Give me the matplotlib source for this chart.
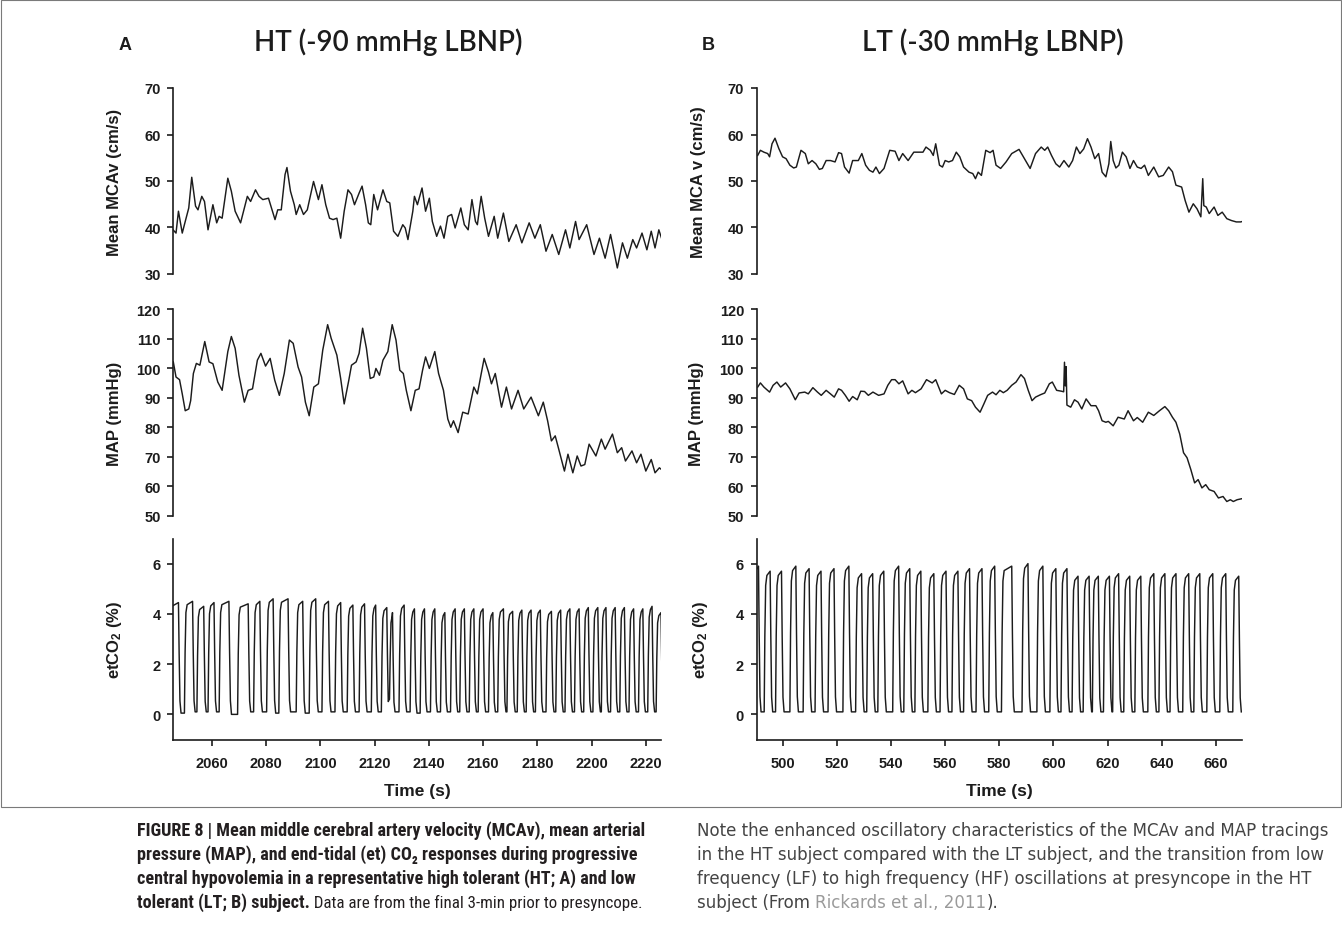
import matplotlib
matplotlib.use("Agg")
import matplotlib.pyplot as plt
from matplotlib.patches import Rectangle

# ---------------------------------------------------------------- data
# HT subject (-90 mmHg LBNP)
ht_mcav_t = [2045.7, 2046.8, 2047.7, 2049.1, 2050.2, 2051.5, 2052.6, 2054.0, 2054.9, 2056.3,
             2057.3, 2058.6, 2060.4, 2061.8, 2062.7, 2063.8, 2065.9, 2067.2, 2068.6, 2070.6,
             2073.1, 2074.3, 2076.1, 2077.4, 2078.8, 2080.9, 2082.2, 2083.3, 2084.3, 2085.6,
             2087.0, 2087.7, 2089.0, 2090.4, 2091.1, 2092.4, 2093.8, 2095.2, 2097.5, 2099.3,
             2100.6, 2102.0, 2103.4, 2104.7, 2106.1, 2107.5, 2108.8, 2110.2, 2111.5, 2112.6,
             2114.3, 2115.4, 2116.7, 2117.7, 2118.6, 2119.7, 2121.1, 2123.1, 2124.5, 2125.6,
             2127.0, 2128.6, 2130.4, 2131.3, 2132.3, 2134.1, 2134.7, 2135.8, 2137.5, 2138.8,
             2140.2, 2141.3, 2142.9, 2144.3, 2145.6, 2147.0, 2148.4, 2149.7, 2151.8, 2153.1,
             2154.5, 2155.9, 2157.2, 2157.9, 2159.3, 2160.6, 2162.0, 2164.1, 2165.4, 2167.5,
             2169.5, 2172.2, 2174.3, 2177.0, 2179.1, 2181.1, 2183.2, 2185.5, 2187.9, 2190.4,
             2192.0, 2194.1, 2195.4, 2198.2, 2200.9, 2202.9, 2205.0, 2207.0, 2209.5, 2211.4,
             2213.2, 2215.2, 2216.6, 2218.6, 2220.4, 2222.0, 2223.4, 2224.8, 2225.8]
ht_mcav_v = [39.5, 38.8, 43.5, 38.8, 41.3, 44.2, 50.8, 44.6, 43.8, 46.7,
             45.6, 39.5, 44.9, 41.0, 42.4, 42.0, 50.6, 47.8, 43.5, 41.0,
             46.7, 45.6, 48.1, 46.7, 46.0, 46.3, 43.8, 41.7, 43.8, 43.8,
             51.4, 52.9, 47.8, 44.9, 42.8, 44.9, 42.8, 43.8, 49.9, 46.0,
             49.2, 44.9, 42.0, 41.7, 42.0, 37.7, 43.5, 48.1, 47.1, 44.9,
             47.4, 48.9, 44.9, 41.0, 40.6, 47.1, 43.8, 48.1, 45.6, 45.3,
             39.2, 38.1, 40.6, 39.9, 37.4, 43.5, 46.7, 44.9, 48.5, 43.5,
             46.3, 41.3, 38.1, 40.3, 37.7, 42.4, 42.8, 39.9, 44.2, 40.6,
             39.5, 46.0, 41.3, 40.6, 46.7, 42.0, 38.1, 42.4, 37.7, 43.1,
             37.0, 40.6, 36.7, 41.0, 37.7, 40.6, 34.9, 38.5, 34.2, 39.5,
             35.6, 41.3, 37.4, 40.6, 34.2, 37.7, 33.4, 38.5, 31.3, 36.7,
             33.4, 37.4, 35.6, 38.8, 35.2, 39.2, 35.6, 39.5, 37.7]

ht_map_t = [2045.8, 2046.8, 2048.1, 2049.1, 2050.2, 2051.5, 2052.2, 2053.2, 2054.3, 2055.6,
            2057.4, 2059.0, 2060.4, 2062.2, 2063.8, 2065.9, 2067.2, 2068.6, 2070.0, 2072.0,
            2073.4, 2075.0, 2076.8, 2078.1, 2079.8, 2081.5, 2083.2, 2084.9, 2086.7, 2088.6,
            2090.0, 2091.8, 2093.1, 2094.5, 2095.9, 2097.6, 2099.3, 2100.9, 2102.7, 2104.0,
            2106.1, 2107.5, 2108.8, 2110.5, 2111.5, 2113.2, 2114.3, 2115.6, 2117.0, 2118.4,
            2119.7, 2120.5, 2121.8, 2123.1, 2124.9, 2126.5, 2127.9, 2129.3, 2130.6, 2131.7,
            2133.4, 2135.0, 2136.4, 2137.7, 2138.8, 2140.2, 2142.2, 2143.6, 2145.4, 2147.0,
            2148.1, 2149.1, 2150.8, 2152.5, 2154.5, 2156.6, 2157.9, 2160.4, 2162.0, 2163.1,
            2164.5, 2166.8, 2168.6, 2170.5, 2172.9, 2175.0, 2177.7, 2180.4, 2182.2, 2183.8,
            2185.2, 2186.6, 2187.9, 2190.0, 2191.3, 2193.1, 2194.7, 2196.1, 2197.5, 2199.1,
            2201.6, 2203.6, 2205.0, 2207.7, 2209.5, 2211.1, 2212.5, 2214.9, 2216.6, 2218.2,
            2220.0, 2222.0, 2223.4, 2225.0, 2225.8]
ht_map_v = [102.1, 97.0, 96.1, 91.3, 85.6, 86.2, 89.0, 98.2, 101.6, 101.0,
            109.0, 102.1, 101.5, 95.3, 92.5, 105.6, 110.7, 106.7, 97.6, 88.5,
            92.5, 93.0, 102.7, 105.0, 100.7, 103.3, 95.9, 90.8, 98.2, 109.5,
            108.4, 100.4, 97.0, 88.5, 83.9, 93.6, 94.7, 106.1, 114.7, 110.1,
            104.4, 96.5, 87.9, 95.9, 101.0, 102.1, 105.0, 113.5, 106.7, 96.5,
            97.0, 99.9, 97.6, 102.7, 105.6, 114.7, 109.5, 99.3, 98.2, 92.5,
            85.6, 92.5, 93.0, 99.3, 103.8, 99.9, 105.6, 98.2, 92.5, 82.8,
            80.0, 82.2, 78.2, 85.1, 84.5, 93.6, 91.3, 103.3, 98.7, 94.7,
            98.2, 86.8, 93.6, 86.2, 92.5, 86.2, 90.2, 83.9, 88.5, 82.2,
            75.4, 77.1, 72.6, 65.2, 70.9, 64.6, 70.3, 66.9, 67.4, 74.3,
            70.3, 76.0, 72.6, 77.7, 71.4, 73.1, 68.6, 72.0, 68.0, 70.9,
            65.2, 69.1, 64.6, 66.3, 65.7]

# breath-by-breath CO2: rise time, fall time, end-tidal peak, trough after fall
ht_co2_rise = [2044.5, 2049.9, 2054.5, 2058.6, 2062.7, 2069.5, 2075.4, 2080.2, 2084.7, 2091.1,
               2095.9, 2100.6, 2105.4, 2109.9, 2114.3, 2118.8, 2122.5, 2125.5, 2129.0, 2133.1,
               2136.8, 2140.6, 2144.3, 2148.0, 2151.4, 2154.9, 2158.2, 2162.0, 2165.4, 2168.8,
               2172.6, 2175.9, 2179.3, 2183.2, 2186.8, 2190.2, 2193.7, 2197.1, 2200.5, 2203.6,
               2207.0, 2210.4, 2213.8, 2217.3, 2220.7, 2223.8]
ht_co2_fall = [2047.7, 2052.9, 2057.0, 2060.8, 2066.3, 2073.4, 2077.7, 2082.6, 2088.1, 2093.5,
               2098.3, 2103.0, 2107.5, 2112.0, 2116.3, 2120.4, 2124.5, 2126.6, 2130.9, 2134.7,
               2138.4, 2142.2, 2145.9, 2149.7, 2153.1, 2156.6, 2160.0, 2163.6, 2167.5, 2170.9,
               2174.3, 2177.7, 2181.1, 2185.2, 2188.6, 2192.0, 2195.4, 2198.8, 2202.3, 2205.3,
               2208.7, 2212.1, 2215.5, 2218.9, 2222.3, 2225.6]
ht_co2_peak = [4.45, 4.5, 4.3, 4.45, 4.5, 4.4, 4.5, 4.6, 4.6, 4.5,
               4.6, 4.5, 4.45, 4.35, 4.4, 4.35, 4.25, 4.05, 4.35, 4.2,
               4.2, 4.2, 4.05, 4.2, 4.2, 4.2, 4.2, 4.05, 4.2, 4.1,
               4.15, 4.15, 4.15, 4.1, 4.15, 4.2, 4.2, 4.25, 4.25, 4.25,
               4.25, 4.25, 4.2, 4.2, 4.3, 4.05]
ht_co2_low = [0.05, 0.1, 0.1, 0.1, 0.0, 0.1, 0.1, 0.05, 0.1, 0.05,
              0.1, 0.1, 0.1, 0.1, 0.1, 0.1, 0.6, 0.1, 0.1, 0.05,
              0.1, 0.1, 0.1, 0.1, 0.1, 0.1, 0.1, 0.1, 0.1, 0.1,
              0.1, 0.1, 0.1, 0.1, 0.1, 0.1, 0.1, 0.1, 0.1, 0.1,
              0.1, 0.1, 0.1, 0.1, 0.1, 0.1]

# LT subject (-30 mmHg LBNP)
lt_mcav_t = [490.7, 491.7, 493.0, 494.4, 495.1, 496.0, 497.1, 498.5, 499.9, 501.2,
             502.6, 504.0, 505.0, 506.7, 508.3, 509.4, 510.8, 512.2, 513.5, 514.6,
             516.0, 517.6, 519.3, 520.6, 521.7, 522.8, 524.5, 525.8, 527.9, 529.2,
             530.6, 532.0, 533.3, 534.4, 535.7, 537.4, 539.5, 541.5, 542.9, 544.3,
             546.3, 548.4, 550.4, 551.8, 552.9, 554.5, 555.6, 556.5, 557.9, 559.0,
             560.0, 561.3, 562.7, 564.1, 565.4, 566.8, 568.8, 570.2, 571.2, 572.2,
             573.4, 575.0, 576.6, 577.7, 578.8, 580.5, 582.5, 584.6, 587.3, 589.3,
             591.4, 593.4, 595.5, 596.8, 597.9, 599.3, 600.9, 602.3, 603.9, 605.7,
             607.1, 608.5, 609.8, 611.2, 612.6, 613.9, 615.3, 616.7, 618.0, 619.4,
             620.5, 621.2, 622.1, 623.1, 624.2, 625.5, 626.9, 628.3, 629.6, 631.0,
             632.4, 633.7, 635.1, 637.1, 638.9, 640.6, 642.6, 644.0, 645.3, 647.4,
             648.7, 650.1, 651.7, 653.1, 654.5, 655.2, 655.6, 656.5, 657.6, 659.4,
             660.8, 662.4, 664.1, 665.8, 667.6, 669.2, 669.9]
lt_mcav_v = [55.5, 56.6, 56.2, 55.9, 55.2, 58.0, 59.2, 57.0, 55.2, 54.8,
             53.4, 52.8, 53.0, 56.6, 55.9, 53.7, 54.4, 53.7, 52.5, 52.7,
             54.4, 54.4, 54.1, 56.1, 55.9, 53.0, 51.7, 54.4, 54.4, 55.9,
             53.4, 52.3, 51.9, 53.0, 51.6, 52.7, 56.6, 56.4, 54.4, 55.9,
             54.4, 56.2, 56.2, 56.2, 57.3, 56.6, 55.5, 58.0, 53.4, 53.0,
             54.4, 54.1, 54.4, 56.2, 55.2, 53.0, 51.9, 51.6, 50.5, 51.9,
             51.2, 56.6, 56.1, 56.6, 53.4, 52.7, 54.1, 55.9, 56.8, 54.8,
             52.7, 55.9, 57.3, 56.6, 57.3, 55.5, 53.7, 53.0, 54.4, 53.0,
             54.4, 57.3, 55.9, 56.9, 59.1, 57.3, 54.8, 55.9, 51.9, 50.9,
             53.7, 58.5, 54.4, 52.8, 53.4, 56.2, 55.2, 52.7, 54.4, 53.0,
             52.7, 53.4, 51.2, 53.0, 50.9, 51.2, 53.0, 52.0, 49.1, 48.7,
             45.8, 43.3, 45.1, 44.0, 42.3, 50.5, 44.7, 44.4, 43.0, 44.4,
             42.6, 43.3, 41.9, 41.5, 41.2, 41.2, 41.3]

lt_map_t = [490.7, 491.7, 493.0, 495.1, 496.4, 497.8, 499.2, 501.0, 502.6, 504.6,
            506.0, 508.1, 509.4, 511.1, 512.8, 514.2, 516.0, 517.6, 519.0, 520.6,
            521.7, 523.1, 524.5, 525.8, 527.5, 528.8, 530.2, 531.6, 533.3, 535.4,
            537.4, 538.8, 540.2, 541.5, 542.9, 544.3, 546.3, 547.7, 549.0, 551.1,
            553.1, 555.2, 556.5, 558.6, 560.0, 561.6, 563.4, 565.2, 566.8, 568.2,
            569.8, 571.2, 572.9, 574.3, 575.7, 577.5, 578.8, 580.2, 581.5, 582.9,
            584.6, 586.2, 588.0, 589.3, 590.7, 592.1, 593.4, 595.2, 596.8, 598.5,
            599.6, 601.2, 603.0, 603.8, 604.1, 604.4, 604.7, 605.0, 606.4, 607.8,
            609.1, 610.5, 612.1, 613.9, 615.7, 616.7, 618.0, 619.4, 620.3, 622.1,
            623.9, 626.2, 627.6, 629.6, 631.0, 633.0, 635.1, 637.1, 639.2, 641.2,
            642.6, 644.0, 645.3, 646.7, 648.1, 649.4, 650.8, 652.2, 653.5, 654.9,
            656.3, 657.6, 659.4, 661.0, 662.7, 664.1, 665.4, 666.5, 667.9, 669.9]
lt_map_v = [93.6, 95.0, 93.6, 91.9, 94.2, 95.3, 93.6, 95.0, 93.0, 89.3,
            91.6, 91.9, 91.3, 93.4, 91.9, 90.8, 92.5, 91.3, 90.2, 93.0,
            92.5, 90.8, 88.8, 90.4, 89.3, 92.2, 92.1, 90.8, 91.9, 90.8,
            91.3, 94.2, 96.1, 96.1, 94.7, 95.7, 91.3, 92.5, 91.7, 93.0,
            96.1, 95.0, 96.1, 91.3, 92.5, 91.7, 91.1, 94.2, 93.0, 89.6,
            89.0, 86.8, 85.1, 87.9, 90.8, 91.9, 91.0, 92.5, 91.7, 92.5,
            94.2, 95.3, 97.8, 96.5, 92.5, 89.0, 90.2, 91.0, 91.6, 94.7,
            95.3, 92.5, 92.2, 92.0, 102.0, 94.0, 100.5, 87.5, 86.8, 89.3,
            88.5, 86.2, 89.6, 87.3, 87.3, 85.6, 82.2, 81.7, 82.0, 80.5,
            83.4, 82.8, 85.6, 82.2, 83.3, 81.7, 85.1, 84.0, 85.6, 87.0,
            85.6, 83.4, 81.7, 77.7, 71.4, 69.7, 65.7, 61.2, 62.3, 59.5,
            60.6, 58.9, 58.3, 56.1, 56.6, 54.9, 55.5, 54.9, 55.5, 55.9]

lt_co2_rise = [489.0, 493.1, 497.3, 502.6, 507.5, 511.9, 516.7, 522.2, 526.9, 531.0,
               535.1, 540.6, 544.7, 548.8, 553.6, 558.1, 562.5, 566.8, 571.4, 576.1,
               580.8, 588.4, 593.9, 598.7, 602.8, 606.9, 611.0, 614.4, 618.5, 621.9,
               626.0, 630.1, 634.9, 639.0, 643.1, 647.8, 651.9, 656.7, 661.5, 666.3]
lt_co2_fall = [491.0, 495.3, 499.5, 504.8, 509.7, 514.1, 518.9, 524.4, 529.1, 533.2,
               537.3, 542.8, 546.9, 551.0, 555.8, 560.3, 564.7, 569.0, 573.6, 578.3,
               584.6, 590.6, 596.1, 600.9, 605.0, 609.1, 613.2, 616.6, 620.7, 624.1,
               628.2, 632.3, 637.1, 641.2, 645.3, 650.0, 654.1, 658.9, 663.7, 668.5]
lt_co2_peak = [5.9, 5.7, 5.7, 5.9, 5.8, 5.7, 5.8, 5.9, 5.6, 5.6,
               5.7, 5.9, 5.8, 5.7, 5.6, 5.7, 5.7, 5.8, 5.8, 5.9,
               5.9, 6.0, 5.9, 5.8, 5.8, 5.5, 5.5, 5.5, 5.5, 5.6,
               5.5, 5.5, 5.6, 5.6, 5.6, 5.6, 5.6, 5.6, 5.6, 5.5]
lt_co2_low = [0.1] * 40

# ---------------------------------------------------------------- helpers
W, H = 1342, 945
INK = "#1c1c1c"
plt.rcParams["font.family"] = ["Liberation Sans", "DejaVu Sans"]
plt.rcParams["mathtext.fontset"] = "custom"
plt.rcParams["mathtext.rm"] = "Liberation Sans:bold"
plt.rcParams["mathtext.it"] = "Liberation Sans:bold"
plt.rcParams["mathtext.bf"] = "Liberation Sans:bold"
plt.rcParams["mathtext.default"] = "rm"

fig = plt.figure(figsize=(W / 100, H / 100), dpi=100)
fig.patch.set_facecolor("white")


def box(x0, x1, ytop, ybot):
    return [x0 / W, 1 - ybot / H, (x1 - x0) / W, (ybot - ytop) / H]


def capnogram(rise, fall, peak, low):
    """Polyline through the corners of each breath, with softened edges."""
    t, v = [], []
    prev_low = low[0]
    for r, f, p, lo in zip(rise, fall, peak, low):
        t += [r, r + 0.25, r + 0.55, r + 1.0, f, f + 0.25, f + 0.55, f + 0.95]
        v += [prev_low, 0.55 * p, 0.9 * p, 0.97 * p, p, 0.55 * p, 0.12 * p, lo]
        prev_low = lo
    return t, v


def style(ax, ylim, yticks, xlim, show_x):
    ax.set_xlim(*xlim)
    ax.set_ylim(*ylim)
    ax.set_yticks(yticks)
    for s in ("top", "right"):
        ax.spines[s].set_visible(False)
    ax.spines["left"].set_linewidth(1.2)
    ax.spines["left"].set_color(INK)
    ax.tick_params(axis="y", direction="out", length=4, width=1.2, color=INK,
                   labelsize=10.5, pad=5, labelcolor=INK)
    for lab in ax.get_yticklabels():
        lab.set_fontweight("bold")
    if show_x:
        ax.spines["bottom"].set_linewidth(1.2)
        ax.spines["bottom"].set_color(INK)
        ax.tick_params(axis="x", direction="out", length=4, width=1.2, color=INK,
                       labelsize=10.5, pad=8, labelcolor=INK)
    else:
        ax.spines["bottom"].set_visible(False)
        ax.set_xticks([])
    ax.patch.set_alpha(0)


cols = [
    dict(x0=173.3, x1=661.0, xlim=(2045.8, 2225.6), xt=list(range(2060, 2221, 20)),
         mcav=(ht_mcav_t, ht_mcav_v), map=(ht_map_t, ht_map_v),
         co2=(ht_co2_rise, ht_co2_fall, ht_co2_peak, ht_co2_low),
         mlabel="Mean MCAv (cm/s)", lab_x=(122, 122, 124)),
    dict(x0=756.6, x1=1241.7, xlim=(490.3, 669.6), xt=list(range(500, 661, 20)),
         mcav=(lt_mcav_t, lt_mcav_v), map=(lt_map_t, lt_map_v),
         co2=(lt_co2_rise, lt_co2_fall, lt_co2_peak, lt_co2_low),
         mlabel="Mean MCA v (cm/s)", lab_x=(706, 704, 710)),
]

LW = 1.05
for c in cols:
    w = c["x1"] - c["x0"]
    # MCAv
    ax1 = fig.add_axes(box(c["x0"], c["x1"], 89, 275))
    ax1.plot(*c["mcav"], color=INK, lw=LW)
    style(ax1, (30, 70), [30, 40, 50, 60, 70], c["xlim"], False)
    ax1.set_ylabel(c["mlabel"], fontsize=12, fontweight="bold", color=INK)
    ax1.yaxis.set_label_coords((c["lab_x"][0] - c["x0"]) / w, 0.5)
    # MAP
    ax2 = fig.add_axes(box(c["x0"], c["x1"], 310, 517))
    ax2.plot(*c["map"], color=INK, lw=LW)
    style(ax2, (50, 120), list(range(50, 121, 10)), c["xlim"], False)
    ax2.set_ylabel("MAP (mmHg)", fontsize=12, fontweight="bold", color=INK)
    ax2.yaxis.set_label_coords((c["lab_x"][1] - c["x0"]) / w, 0.5)
    # etCO2
    ax3 = fig.add_axes(box(c["x0"], c["x1"], 539.5, 740.5))
    ct, cv = capnogram(*c["co2"])
    ax3.plot(ct, cv, color=INK, lw=LW)
    style(ax3, (-1, 7), [0, 2, 4, 6], c["xlim"], True)
    ax3.set_xticks(c["xt"])
    for lab in ax3.get_xticklabels() + ax3.get_yticklabels():
        lab.set_fontweight("bold")
    ax3.set_ylabel("etCO$_2$ (%)", fontsize=12, fontweight="bold", color=INK)
    ax3.yaxis.set_label_coords((c["lab_x"][2] - c["x0"]) / w, 0.5)
    fig.text((c["x0"] + c["x1"]) / 2 / W, 1 - 792 / H, "Time (s)", ha="center",
             va="center", fontsize=12.5, fontweight="bold", color=INK)

# panel letters and titles
fig.text(125 / W, 1 - 46 / H, "A", ha="center", va="center", fontsize=13,
         fontweight="bold", color=INK)
fig.text(708 / W, 1 - 46 / H, "B", ha="center", va="center", fontsize=13,
         fontweight="bold", color=INK)
fig.text(388 / W, 1 - 42 / H, "HT (-90 mmHg LBNP)", ha="center", va="center",
         fontsize=20, family=["Lato", "DejaVu Sans"], fontweight="semibold", color=INK)
fig.text(993 / W, 1 - 42 / H, "LT (-30 mmHg LBNP)", ha="center", va="center",
         fontsize=20, family=["Lato", "DejaVu Sans"], fontweight="semibold", color=INK)

# frame around the figure panel
fig.add_artist(Rectangle((0.5 / W, 1 - 808 / H), 1340.5 / W, 807.5 / H,
                         transform=fig.transFigure, fill=False, lw=0.8,
                         edgecolor="#7a7a7a"))

# ---------------------------------------------------------------- caption
CAP_B = ["Roboto Condensed", "Lato", "DejaVu Sans"]
CAP_R = ["DejaVu Sans"]
BOLD_C = "#231f20"
REG_C = "#444444"
LINK_C = "#9a9a9a"
base = [836, 860, 884, 908]
r = fig.canvas.get_renderer()


def put(x, y, s, size, family, **kw):
    return fig.text(x / W, 1 - y / H, s, family=family, fontsize=size,
                    va="baseline", **kw)


def width(t):
    return t.get_window_extent(r).width


# sizes chosen so the first line of each column spans its column width
probe_b = put(137, base[0], "FIGURE 8 | Mean middle cerebral artery velocity (MCAv), mean arterial",
              10, CAP_B, fontweight="bold", color=BOLD_C)
probe_r = put(697, base[0], "Note the enhanced oscillatory characteristics of the MCAv and MAP tracings",
              10, CAP_R, color=REG_C)
SB = 10 * 508 / width(probe_b)
SR = 10 * 633 / width(probe_r)
probe_b.set_fontsize(SB)
probe_r.set_fontsize(SR)

left_bold = ["pressure (MAP), and end-tidal (et) CO\u2082 responses during progressive",
             "central hypovolemia in a representative high tolerant (HT; A) and low"]
for i, s in enumerate(left_bold):
    put(137, base[i + 1], s, SB, CAP_B, fontweight="bold", color=BOLD_C)
tb = put(137, base[3], "tolerant (LT; B) subject.", SB, CAP_B, fontweight="bold",
         color=BOLD_C)
x_end = 137 + width(tb)
td = put(x_end, base[3], " Data are from the final 3-min prior to presyncope.", SB,
         CAP_B, color=BOLD_C)
# keep the regular part of line 4 within the left column
if x_end + width(td) > 642:
    td.set_fontsize(SB * (642 - x_end) / width(td))

right_lines = ["in the HT subject compared with the LT subject, and the transition from low",
               "frequency (LF) to high frequency (HF) oscillations at presyncope in the HT"]
for i, s in enumerate(right_lines):
    put(697, base[i + 1], s, SR, CAP_R, color=REG_C)
t1 = put(697, base[3], "subject (From ", SR, CAP_R, color=REG_C)
x1 = 697 + width(t1)
t2 = put(x1, base[3], "Rickards et al., 2011", SR, CAP_R, color=LINK_C)
x2 = x1 + width(t2)
put(x2, base[3], ").", SR, CAP_R, color=REG_C)

fig.savefig("out.png", dpi=100, facecolor="white")
